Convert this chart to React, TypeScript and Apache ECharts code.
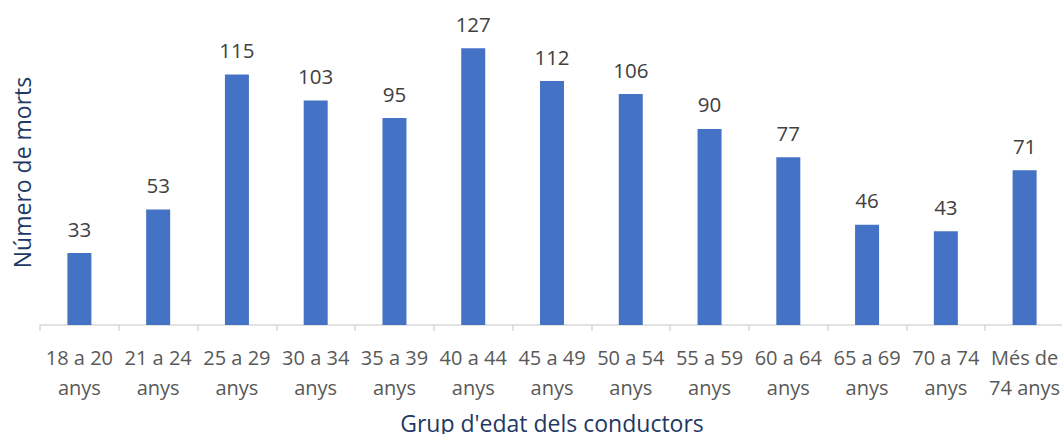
import React, { useEffect, useRef } from "react";
import * as echarts from "echarts";

const categories = [
  "18 a 20\nanys",
  "21 a 24\nanys",
  "25 a 29\nanys",
  "30 a 34\nanys",
  "35 a 39\nanys",
  "40 a 44\nanys",
  "45 a 49\nanys",
  "50 a 54\nanys",
  "55 a 59\nanys",
  "60 a 64\nanys",
  "65 a 69\nanys",
  "70 a 74\nanys",
  "Més de\n74 anys",
];

const deaths = [33, 53, 115, 103, 95, 127, 112, 106, 90, 77, 46, 43, 71];

const FONT = "'Open Sans', 'Noto Sans', sans-serif";

export default function App() {
  const ref = useRef<HTMLDivElement>(null);

  useEffect(() => {
    document.body.style.margin = "0";
    if (!ref.current) return;
    const chart = echarts.init(ref.current, undefined, { renderer: "svg" });
    chart.setOption({
      animation: false,
      grid: { left: 40, right: -2, top: 20, bottom: 109, outerBoundsMode: "none" },
      xAxis: {
        type: "category",
        data: categories,
        name: "Grup d'edat dels conductors",
        nameLocation: "middle",
        nameGap: 86,
        nameTextStyle: { color: "#1F3864", fontSize: 23, fontFamily: FONT },
        axisLine: { lineStyle: { color: "#D9D9D9", width: 1.5 } },
        axisTick: { show: true, length: 6, lineStyle: { color: "#D9D9D9", width: 1.5 } },
        axisLabel: {
          color: "#595959",
          fontSize: 20,
          fontFamily: FONT,
          lineHeight: 30,
          margin: 17,
          interval: 0,
        },
      },
      yAxis: {
        type: "value",
        min: 0,
        max: 140,
        name: "Número de morts",
        nameLocation: "middle",
        nameGap: 7,
        nameTextStyle: { color: "#1F3864", fontSize: 23, fontFamily: FONT },
        axisLine: { show: false },
        axisTick: { show: false },
        axisLabel: { show: false },
        splitLine: { show: false },
      },
      series: [
        {
          type: "bar",
          data: deaths,
          barWidth: 24,
          itemStyle: { color: "#4472C4" },
          label: {
            show: true,
            position: "top",
            distance: 14,
            color: "#404040",
            fontSize: 20.5,
            fontFamily: FONT,
          },
        },
      ],
    });
    return () => chart.dispose();
  }, []);

  return <div ref={ref} style={{ width: 1062, height: 434 }} />;
}
